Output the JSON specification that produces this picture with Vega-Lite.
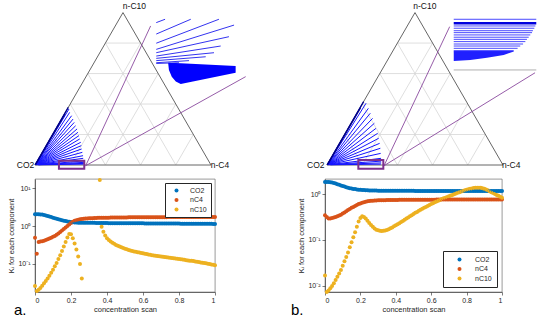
{
"$schema": "https://vega.github.io/schema/vega-lite/v6.json",
"padding": {"left": 7, "top": 0, "right": 0, "bottom": 0},
"background": "white",
"config": {
 "font": "Liberation Sans",
 "view": {"stroke": null},
 "axis": {"labelFont": "Liberation Sans", "labelFontSize": 7, "labelColor": "#262626", "titleFont": "Liberation Sans", "titleFontSize": 7.5, "titleFontWeight": "normal", "titleColor": "#262626", "domainColor": "#262626", "domainWidth": 0.6, "tickColor": "#262626", "tickSize": 3, "tickWidth": 0.6, "grid": false},
 "legend": {"title": null, "strokeColor": "#262626", "fillColor": "white", "labelFont": "Liberation Sans", "labelFontSize": 7, "labelColor": "#262626", "symbolType": "circle", "symbolSize": 16, "symbolStrokeWidth": 0, "rowPadding": 1.5}
},
"datasets": {
 "grid": [{"u":0.1,"v":0.1732,"u2":0.9,"v2":0.1732},{"u":0.2,"v":0.3464,"u2":0.8,"v2":0.3464},{"u":0.3,"v":0.5196,"u2":0.7,"v2":0.5196},{"u":0.4,"v":0.6928,"u2":0.6,"v2":0.6928},{"u":0.2,"v":0,"u2":0.6,"v2":0.6928},{"u":0.4,"v":0,"u2":0.7,"v2":0.5196},{"u":0.6,"v":0,"u2":0.8,"v2":0.3464},{"u":0.8,"v":0,"u2":0.9,"v2":0.1732},{"u":0.2,"v":0,"u2":0.1,"v2":0.1732},{"u":0.4,"v":0,"u2":0.2,"v2":0.3464},{"u":0.6,"v":0,"u2":0.3,"v2":0.5196},{"u":0.8,"v":0,"u2":0.4,"v2":0.6928}],
 "tri": [{"u":0,"v":0,"u2":1,"v2":0},{"u":0,"v":0,"u2":0.5,"v2":0.866},{"u":1,"v":0,"u2":0.5,"v2":0.866}],
 "tieA": [{"u":0.003,"v":0.002,"u2":0.193,"v2":0.318},{"u":0.004,"v":0.002,"u2":0.197,"v2":0.299},{"u":0.004,"v":0.002,"u2":0.208,"v2":0.28},{"u":0.005,"v":0.002,"u2":0.216,"v2":0.261},{"u":0.005,"v":0.002,"u2":0.223,"v2":0.242},{"u":0.006,"v":0.002,"u2":0.231,"v2":0.223},{"u":0.006,"v":0.002,"u2":0.239,"v2":0.205},{"u":0.007,"v":0.002,"u2":0.244,"v2":0.186},{"u":0.007,"v":0.002,"u2":0.25,"v2":0.167},{"u":0.008,"v":0.002,"u2":0.254,"v2":0.148},{"u":0.009,"v":0.002,"u2":0.26,"v2":0.129},{"u":0.01,"v":0.002,"u2":0.263,"v2":0.11},{"u":0.011,"v":0.002,"u2":0.265,"v2":0.091},{"u":0.012,"v":0.002,"u2":0.269,"v2":0.072},{"u":0.014,"v":0.002,"u2":0.273,"v2":0.053},{"u":0.016,"v":0.002,"u2":0.274,"v2":0.038},{"u":0.018,"v":0.002,"u2":0.278,"v2":0.023},{"u":0.02,"v":0.002,"u2":0.278,"v2":0.015},{"u":0.02,"v":0.002,"u2":0.278,"v2":0.009},{"u":0.02,"v":0.001,"u2":0.276,"v2":0.005}],
 "navA": [{"u":0.0,"v":0.0,"u2":0.189,"v2":0.327},{"u":0.003,"v":0.002,"u2":0.17,"v2":0.29}],
 "insA": [{"u":0.689,"v":0.809,"u2":0.739,"v2":0.828},{"u":0.689,"v":0.744,"u2":0.885,"v2":0.828},{"u":0.689,"v":0.692,"u2":1.045,"v2":0.828},{"u":0.689,"v":0.657,"u2":1.131,"v2":0.795},{"u":0.689,"v":0.638,"u2":1.102,"v2":0.729},{"u":0.689,"v":0.619,"u2":1.055,"v2":0.676},{"u":0.689,"v":0.606,"u2":1.017,"v2":0.638},{"u":0.689,"v":0.593,"u2":0.97,"v2":0.615},{"u":0.689,"v":0.581,"u2":0.875,"v2":0.593},{"u":0.689,"v":0.577,"u2":0.818,"v2":0.581}],
 "blobA": [{"u":0.757,"v":0.581,"v2":0.575},{"u":0.761,"v":0.581,"v2":0.54},{"u":0.777,"v":0.58,"v2":0.502},{"u":0.8,"v":0.579,"v2":0.475},{"u":0.828,"v":0.5776,"v2":0.46},{"u":1.14,"v":0.5625,"v2":0.524}],
 "zoomA": [{"u":0.288,"v":-0.004,"u2":0.657,"v2":0.79},{"u":0.288,"v":-0.004,"u2":1.197,"v2":0.502}],
 "rectA": [{"u":0.136,"v":-0.021,"u2":0.28,"v2":0.024}],
 "labA": [{"u":0.565,"v":0.903,"t":"n-C10"},{"u":-0.054,"v":-0.002,"t":"CO2"},{"u":1.051,"v":-0.002,"t":"n-C4"}],
 "tieB": [{"u":0.003,"v":0.002,"u2":0.222,"v2":0.351},{"u":0.004,"v":0.002,"u2":0.235,"v2":0.322},{"u":0.005,"v":0.002,"u2":0.246,"v2":0.294},{"u":0.005,"v":0.002,"u2":0.259,"v2":0.265},{"u":0.006,"v":0.002,"u2":0.269,"v2":0.237},{"u":0.007,"v":0.002,"u2":0.278,"v2":0.208},{"u":0.008,"v":0.002,"u2":0.288,"v2":0.18},{"u":0.009,"v":0.002,"u2":0.294,"v2":0.152},{"u":0.01,"v":0.002,"u2":0.299,"v2":0.123},{"u":0.011,"v":0.002,"u2":0.303,"v2":0.095},{"u":0.013,"v":0.002,"u2":0.305,"v2":0.066},{"u":0.015,"v":0.002,"u2":0.307,"v2":0.038},{"u":0.018,"v":0.002,"u2":0.308,"v2":0.022},{"u":0.02,"v":0.002,"u2":0.308,"v2":0.012},{"u":0.02,"v":0.001,"u2":0.306,"v2":0.005}],
 "navB": [{"u":0.0,"v":0.0,"u2":0.208,"v2":0.36},{"u":0.003,"v":0.002,"u2":0.19,"v2":0.325}],
 "insB": [{"u":0.72,"v":0.828,"u2":1.189,"v2":0.828},{"u":0.72,"v":0.79,"u2":1.184,"v2":0.79},{"u":0.72,"v":0.777,"u2":1.178,"v2":0.777},{"u":0.72,"v":0.763,"u2":1.17,"v2":0.763},{"u":0.72,"v":0.752,"u2":1.165,"v2":0.752},{"u":0.72,"v":0.739,"u2":1.155,"v2":0.739},{"u":0.72,"v":0.726,"u2":1.146,"v2":0.726},{"u":0.72,"v":0.714,"u2":1.136,"v2":0.714},{"u":0.72,"v":0.701,"u2":1.127,"v2":0.701},{"u":0.72,"v":0.6875,"u2":1.114,"v2":0.6875},{"u":0.72,"v":0.676,"u2":1.098,"v2":0.676},{"u":0.72,"v":0.663,"u2":1.083,"v2":0.663},{"u":0.72,"v":0.65,"u2":1.061,"v2":0.65}],
 "thickB": [{"u":0.72,"v":0.805,"u2":1.189,"v2":0.805}],
 "grayB": [{"u":0.72,"v":0.54,"u2":1.189,"v2":0.54}],
 "blobB": [{"u":0.72,"v":0.648,"v2":0.591},{"u":0.814,"v":0.648,"v2":0.597},{"u":0.909,"v":0.648,"v2":0.61},{"u":1.004,"v":0.648,"v2":0.625},{"u":1.061,"v":0.648,"v2":0.645}],
 "zoomB": [{"u":0.324,"v":-0.004,"u2":0.697,"v2":0.786},{"u":0.324,"v":-0.004,"u2":1.182,"v2":0.524}],
 "rectB": [{"u":0.178,"v":-0.021,"u2":0.32,"v2":0.028}],
 "labB": [{"u":0.556,"v":0.903,"t":"n-C10"},{"u":-0.064,"v":-0.002,"t":"CO2"},{"u":1.047,"v":-0.002,"t":"n-C4"}],
 "sa": [
{"x":0.00,"CO2":2.04,"nC4":0.490,"nC10":0.0263},{"x":0.01,"CO2":2.04,"nC4":0.186,"nC10":0.0195},{"x":0.02,"CO2":2.04,"nC4":0.380,"nC10":0.0209},{"x":0.03,"CO2":2.02,"nC4":0.389,"nC10":0.0234},{"x":0.04,"CO2":2.00,"nC4":0.398,"nC10":0.0269},{"x":0.05,"CO2":1.95,"nC4":0.412,"nC10":0.0309},{"x":0.06,"CO2":1.90,"nC4":0.427,"nC10":0.0355},{"x":0.07,"CO2":1.84,"nC4":0.447,"nC10":0.0417},{"x":0.08,"CO2":1.78,"nC4":0.468,"nC10":0.0490},{"x":0.09,"CO2":1.72,"nC4":0.490,"nC10":0.0589},
{"x":0.10,"CO2":1.66,"nC4":0.519,"nC10":0.0708},{"x":0.11,"CO2":1.60,"nC4":0.550,"nC10":0.0871},{"x":0.12,"CO2":1.55,"nC4":0.589,"nC10":0.107},{"x":0.13,"CO2":1.50,"nC4":0.638,"nC10":0.135},{"x":0.14,"CO2":1.46,"nC4":0.692,"nC10":0.170},{"x":0.15,"CO2":1.42,"nC4":0.759,"nC10":0.219},{"x":0.16,"CO2":1.38,"nC4":0.832,"nC10":0.288},{"x":0.17,"CO2":1.35,"nC4":0.912,"nC10":0.380},{"x":0.18,"CO2":1.32,"nC4":1.00,"nC10":0.501},{"x":0.19,"CO2":1.29,"nC4":1.10,"nC10":0.617},
{"x":0.20,"CO2":1.27,"nC4":1.20,"nC10":0.603},{"x":0.21,"CO2":1.25,"nC4":1.29,"nC10":0.479},{"x":0.22,"CO2":1.24,"nC4":1.37,"nC10":0.347},{"x":0.23,"CO2":1.23,"nC4":1.42,"nC10":0.240},{"x":0.24,"CO2":1.22,"nC4":1.46,"nC10":0.158},{"x":0.25,"CO2":1.21,"nC4":1.50,"nC10":0.100},{"x":0.26,"CO2":1.21,"nC4":1.52,"nC10":0.0417},{"x":0.27,"CO2":1.21,"nC4":1.55},{"x":0.28,"CO2":1.21,"nC4":1.57},{"x":0.29,"CO2":1.21,"nC4":1.58},
{"x":0.30,"CO2":1.21,"nC4":1.60},{"x":0.31,"CO2":1.21,"nC4":1.61},{"x":0.32,"CO2":1.21,"nC4":1.61},{"x":0.33,"CO2":1.21,"nC4":1.62},{"x":0.34,"CO2":1.20,"nC4":1.63},{"x":0.35,"CO2":1.20,"nC4":1.64},{"x":0.36,"CO2":1.20,"nC4":1.64,"nC10":16.2},{"x":0.37,"CO2":1.20,"nC4":1.65,"nC10":0.955},{"x":0.38,"CO2":1.20,"nC4":1.65,"nC10":0.708},{"x":0.39,"CO2":1.20,"nC4":1.66,"nC10":0.562},
{"x":0.40,"CO2":1.20,"nC4":1.66,"nC10":0.479},{"x":0.41,"CO2":1.19,"nC4":1.66,"nC10":0.427},{"x":0.42,"CO2":1.19,"nC4":1.67,"nC10":0.389},{"x":0.43,"CO2":1.19,"nC4":1.67,"nC10":0.363},{"x":0.44,"CO2":1.19,"nC4":1.67,"nC10":0.339},{"x":0.45,"CO2":1.19,"nC4":1.67,"nC10":0.316},{"x":0.46,"CO2":1.19,"nC4":1.68,"nC10":0.302},{"x":0.47,"CO2":1.19,"nC4":1.68,"nC10":0.288},{"x":0.48,"CO2":1.19,"nC4":1.68,"nC10":0.275},{"x":0.49,"CO2":1.19,"nC4":1.68,"nC10":0.263},
{"x":0.50,"CO2":1.19,"nC4":1.68,"nC10":0.251},{"x":0.51,"CO2":1.18,"nC4":1.68,"nC10":0.243},{"x":0.52,"CO2":1.18,"nC4":1.69,"nC10":0.234},{"x":0.53,"CO2":1.18,"nC4":1.69,"nC10":0.226},{"x":0.54,"CO2":1.18,"nC4":1.69,"nC10":0.219},{"x":0.55,"CO2":1.18,"nC4":1.69,"nC10":0.214},{"x":0.56,"CO2":1.18,"nC4":1.69,"nC10":0.209},{"x":0.57,"CO2":1.18,"nC4":1.69,"nC10":0.204},{"x":0.58,"CO2":1.18,"nC4":1.70,"nC10":0.200},{"x":0.59,"CO2":1.18,"nC4":1.70,"nC10":0.195},
{"x":0.60,"CO2":1.18,"nC4":1.70,"nC10":0.191},{"x":0.61,"CO2":1.17,"nC4":1.70,"nC10":0.186},{"x":0.62,"CO2":1.17,"nC4":1.70,"nC10":0.182},{"x":0.63,"CO2":1.17,"nC4":1.70,"nC10":0.178},{"x":0.64,"CO2":1.17,"nC4":1.70,"nC10":0.174},{"x":0.65,"CO2":1.17,"nC4":1.71,"nC10":0.170},{"x":0.66,"CO2":1.17,"nC4":1.71,"nC10":0.167},{"x":0.67,"CO2":1.17,"nC4":1.71,"nC10":0.165},{"x":0.68,"CO2":1.17,"nC4":1.71,"nC10":0.163},{"x":0.69,"CO2":1.17,"nC4":1.71,"nC10":0.161},
{"x":0.70,"CO2":1.17,"nC4":1.71,"nC10":0.158},{"x":0.71,"CO2":1.16,"nC4":1.71,"nC10":0.156},{"x":0.72,"CO2":1.16,"nC4":1.71,"nC10":0.153},{"x":0.73,"CO2":1.16,"nC4":1.71,"nC10":0.151},{"x":0.74,"CO2":1.16,"nC4":1.72,"nC10":0.149},{"x":0.75,"CO2":1.16,"nC4":1.72,"nC10":0.146},{"x":0.76,"CO2":1.16,"nC4":1.72,"nC10":0.144},{"x":0.77,"CO2":1.16,"nC4":1.72,"nC10":0.142},{"x":0.78,"CO2":1.16,"nC4":1.72,"nC10":0.139},{"x":0.79,"CO2":1.16,"nC4":1.72,"nC10":0.137},
{"x":0.80,"CO2":1.16,"nC4":1.72,"nC10":0.135},{"x":0.81,"CO2":1.15,"nC4":1.72,"nC10":0.133},{"x":0.82,"CO2":1.15,"nC4":1.72,"nC10":0.131},{"x":0.83,"CO2":1.15,"nC4":1.72,"nC10":0.129},{"x":0.84,"CO2":1.15,"nC4":1.72,"nC10":0.126},{"x":0.85,"CO2":1.15,"nC4":1.72,"nC10":0.124},{"x":0.86,"CO2":1.15,"nC4":1.72,"nC10":0.122},{"x":0.87,"CO2":1.15,"nC4":1.73,"nC10":0.121},{"x":0.88,"CO2":1.15,"nC4":1.73,"nC10":0.119},{"x":0.89,"CO2":1.15,"nC4":1.73,"nC10":0.117},
{"x":0.90,"CO2":1.15,"nC4":1.73,"nC10":0.115},{"x":0.91,"CO2":1.14,"nC4":1.73,"nC10":0.112},{"x":0.92,"CO2":1.14,"nC4":1.73,"nC10":0.110},{"x":0.93,"CO2":1.14,"nC4":1.73,"nC10":0.108},{"x":0.94,"CO2":1.14,"nC4":1.73,"nC10":0.106},{"x":0.95,"CO2":1.14,"nC4":1.73,"nC10":0.104},{"x":0.96,"CO2":1.14,"nC4":1.73,"nC10":0.101},{"x":0.97,"CO2":1.14,"nC4":1.73,"nC10":0.0993},{"x":0.98,"CO2":1.14,"nC4":1.73,"nC10":0.0973},{"x":0.99,"CO2":1.13,"nC4":1.73,"nC10":0.0953},
{"x":1.00,"CO2":1.13,"nC4":1.73,"nC10":0.0933}
 ],
 "sb": [
{"x":0.00,"CO2":1.82,"nC4":0.347,"nC10":0.0170},{"x":0.01,"CO2":1.83,"nC4":0.316,"nC10":0.00741},{"x":0.02,"CO2":1.83,"nC4":0.292,"nC10":0.00794},{"x":0.03,"CO2":1.81,"nC4":0.295,"nC10":0.00891},{"x":0.04,"CO2":1.78,"nC4":0.302,"nC10":0.0100},{"x":0.05,"CO2":1.74,"nC4":0.309,"nC10":0.0115},{"x":0.06,"CO2":1.69,"nC4":0.316,"nC10":0.0135},{"x":0.07,"CO2":1.64,"nC4":0.327,"nC10":0.0158},{"x":0.08,"CO2":1.58,"nC4":0.339,"nC10":0.0186},{"x":0.09,"CO2":1.53,"nC4":0.355,"nC10":0.0224},
{"x":0.10,"CO2":1.49,"nC4":0.376,"nC10":0.0275},{"x":0.11,"CO2":1.45,"nC4":0.398,"nC10":0.0347},{"x":0.12,"CO2":1.41,"nC4":0.422,"nC10":0.0427},{"x":0.13,"CO2":1.37,"nC4":0.447,"nC10":0.0537},{"x":0.14,"CO2":1.34,"nC4":0.473,"nC10":0.0692},{"x":0.15,"CO2":1.32,"nC4":0.501,"nC10":0.0891},{"x":0.16,"CO2":1.29,"nC4":0.525,"nC10":0.115},{"x":0.17,"CO2":1.28,"nC4":0.550,"nC10":0.148},{"x":0.18,"CO2":1.26,"nC4":0.575,"nC10":0.195},{"x":0.19,"CO2":1.245,"nC4":0.603,"nC10":0.251},
{"x":0.20,"CO2":1.233,"nC4":0.624,"nC10":0.302},{"x":0.21,"CO2":1.225,"nC4":0.646,"nC10":0.327},{"x":0.22,"CO2":1.216,"nC4":0.664,"nC10":0.316},{"x":0.23,"CO2":1.208,"nC4":0.679,"nC10":0.292},{"x":0.24,"CO2":1.202,"nC4":0.692,"nC10":0.263},{"x":0.25,"CO2":1.197,"nC4":0.703,"nC10":0.234},{"x":0.26,"CO2":1.194,"nC4":0.711,"nC10":0.211},{"x":0.27,"CO2":1.191,"nC4":0.716,"nC10":0.193},{"x":0.28,"CO2":1.189,"nC4":0.721,"nC10":0.178},{"x":0.29,"CO2":1.186,"nC4":0.724,"nC10":0.168},
{"x":0.30,"CO2":1.183,"nC4":0.728,"nC10":0.162},{"x":0.31,"CO2":1.182,"nC4":0.730,"nC10":0.158},{"x":0.32,"CO2":1.180,"nC4":0.732,"nC10":0.157},{"x":0.33,"CO2":1.178,"nC4":0.734,"nC10":0.158},{"x":0.34,"CO2":1.177,"nC4":0.736,"nC10":0.160},{"x":0.35,"CO2":1.175,"nC4":0.738,"nC10":0.165},{"x":0.36,"CO2":1.174,"nC4":0.739,"nC10":0.172},{"x":0.37,"CO2":1.173,"nC4":0.740,"nC10":0.180},{"x":0.38,"CO2":1.172,"nC4":0.742,"nC10":0.188},{"x":0.39,"CO2":1.171,"nC4":0.743,"nC10":0.198},
{"x":0.40,"CO2":1.170,"nC4":0.745,"nC10":0.209},{"x":0.41,"CO2":1.170,"nC4":0.745,"nC10":0.219},{"x":0.42,"CO2":1.170,"nC4":0.746,"nC10":0.232},{"x":0.43,"CO2":1.170,"nC4":0.746,"nC10":0.245},{"x":0.44,"CO2":1.170,"nC4":0.747,"nC10":0.260},{"x":0.45,"CO2":1.170,"nC4":0.747,"nC10":0.275},{"x":0.46,"CO2":1.170,"nC4":0.748,"nC10":0.292},{"x":0.47,"CO2":1.170,"nC4":0.748,"nC10":0.309},{"x":0.48,"CO2":1.170,"nC4":0.749,"nC10":0.327},{"x":0.49,"CO2":1.170,"nC4":0.749,"nC10":0.347},
{"x":0.50,"CO2":1.170,"nC4":0.750,"nC10":0.367},{"x":0.51,"CO2":1.168,"nC4":0.750,"nC10":0.389},{"x":0.52,"CO2":1.168,"nC4":0.751,"nC10":0.407},{"x":0.53,"CO2":1.168,"nC4":0.751,"nC10":0.432},{"x":0.54,"CO2":1.168,"nC4":0.752,"nC10":0.457},{"x":0.55,"CO2":1.168,"nC4":0.752,"nC10":0.479},{"x":0.56,"CO2":1.167,"nC4":0.752,"nC10":0.501},{"x":0.57,"CO2":1.167,"nC4":0.753,"nC10":0.525},{"x":0.58,"CO2":1.167,"nC4":0.753,"nC10":0.550},{"x":0.59,"CO2":1.167,"nC4":0.753,"nC10":0.575},
{"x":0.60,"CO2":1.166,"nC4":0.754,"nC10":0.603},{"x":0.61,"CO2":1.166,"nC4":0.754,"nC10":0.631},{"x":0.62,"CO2":1.166,"nC4":0.754,"nC10":0.661},{"x":0.63,"CO2":1.166,"nC4":0.755,"nC10":0.684},{"x":0.64,"CO2":1.165,"nC4":0.755,"nC10":0.716},{"x":0.65,"CO2":1.165,"nC4":0.755,"nC10":0.741},{"x":0.66,"CO2":1.165,"nC4":0.755,"nC10":0.776},{"x":0.67,"CO2":1.165,"nC4":0.756,"nC10":0.804},{"x":0.68,"CO2":1.164,"nC4":0.756,"nC10":0.832},{"x":0.69,"CO2":1.164,"nC4":0.756,"nC10":0.861},
{"x":0.70,"CO2":1.164,"nC4":0.756,"nC10":0.891},{"x":0.71,"CO2":1.164,"nC4":0.757,"nC10":0.923},{"x":0.72,"CO2":1.163,"nC4":0.757,"nC10":0.955},{"x":0.73,"CO2":1.163,"nC4":0.757,"nC10":0.989},{"x":0.74,"CO2":1.163,"nC4":0.757,"nC10":1.023},{"x":0.75,"CO2":1.163,"nC4":0.758,"nC10":1.059},{"x":0.76,"CO2":1.162,"nC4":0.758,"nC10":1.096},{"x":0.77,"CO2":1.162,"nC4":0.758,"nC10":1.135},{"x":0.78,"CO2":1.162,"nC4":0.758,"nC10":1.169},{"x":0.79,"CO2":1.162,"nC4":0.758,"nC10":1.202},
{"x":0.80,"CO2":1.162,"nC4":0.759,"nC10":1.236},{"x":0.81,"CO2":1.161,"nC4":0.759,"nC10":1.268},{"x":0.82,"CO2":1.161,"nC4":0.759,"nC10":1.297},{"x":0.83,"CO2":1.161,"nC4":0.759,"nC10":1.324},{"x":0.84,"CO2":1.161,"nC4":0.759,"nC10":1.349},{"x":0.85,"CO2":1.161,"nC4":0.759,"nC10":1.365},{"x":0.86,"CO2":1.160,"nC4":0.760,"nC10":1.374},{"x":0.87,"CO2":1.160,"nC4":0.760,"nC10":1.374},{"x":0.88,"CO2":1.160,"nC4":0.760,"nC10":1.361},{"x":0.89,"CO2":1.160,"nC4":0.760,"nC10":1.334},
{"x":0.90,"CO2":1.160,"nC4":0.760,"nC10":1.297},{"x":0.91,"CO2":1.160,"nC4":0.760,"nC10":1.253},{"x":0.92,"CO2":1.160,"nC4":0.760,"nC10":1.202},{"x":0.93,"CO2":1.160,"nC4":0.760,"nC10":1.148},{"x":0.94,"CO2":1.160,"nC4":0.760,"nC10":1.096},{"x":0.95,"CO2":1.160,"nC4":0.760,"nC10":1.047},{"x":0.96,"CO2":1.160,"nC4":0.760,"nC10":1.000},{"x":0.97,"CO2":1.160,"nC4":0.760,"nC10":0.955},{"x":0.98,"CO2":1.160,"nC4":0.760,"nC10":0.912},{"x":0.99,"CO2":1.160,"nC4":0.760,"nC10":0.871},
{"x":1.00,"CO2":1.160,"nC4":0.760,"nC10":0.832}
 ]
},
"columns": 2,
"spacing": {"row": 4, "column": 75},
"bounds": "flush",
"align": "each",
"resolve": {"scale": {"x": "independent", "y": "independent", "color": "independent"}, "axis": {"x": "independent", "y": "independent"}, "legend": {"color": "independent"}},
"concat": [
 {
  "width": 215, "height": 175,
  "encoding": {
   "x": {"field": "u", "type": "quantitative", "scale": {"domain": [0, 1.2216], "nice": false, "zero": false}, "axis": null},
   "y": {"field": "v", "type": "quantitative", "scale": {"domain": [-0.0568, 0.9375], "nice": false, "zero": false}, "axis": null}
  },
  "layer": [
   {"data": {"name": "grid"}, "mark": {"type": "rule", "color": "#d6d6d6", "strokeWidth": 0.8}, "encoding": {"x2": {"field": "u2"}, "y2": {"field": "v2"}}},
   {"data": {"name": "tri"}, "mark": {"type": "rule", "color": "#666666", "strokeWidth": 1}, "encoding": {"x2": {"field": "u2"}, "y2": {"field": "v2"}}},
   {"data": {"name": "tieA"}, "mark": {"type": "rule", "color": "#1414ff", "strokeWidth": 1}, "encoding": {"x2": {"field": "u2"}, "y2": {"field": "v2"}}},
   {"data": {"name": "navA"}, "mark": {"type": "rule", "color": "#00008b", "strokeWidth": 1.3}, "encoding": {"x2": {"field": "u2"}, "y2": {"field": "v2"}}},
   {"data": {"name": "insA"}, "mark": {"type": "rule", "color": "#3434f0", "strokeWidth": 1}, "encoding": {"x2": {"field": "u2"}, "y2": {"field": "v2"}}},
   {"data": {"name": "blobA"}, "mark": {"type": "area", "color": "#0000ff", "opacity": 1}, "encoding": {"y2": {"field": "v2"}}},
   {"data": {"name": "zoomA"}, "mark": {"type": "rule", "color": "#8a4a9e", "strokeWidth": 0.9}, "encoding": {"x2": {"field": "u2"}, "y2": {"field": "v2"}}},
   {"data": {"name": "rectA"}, "mark": {"type": "rect", "fillOpacity": 0, "stroke": "#7E2F8E", "strokeWidth": 2}, "encoding": {"x2": {"field": "u2"}, "y2": {"field": "v2"}}},
   {"data": {"name": "labA"}, "mark": {"type": "text", "fontSize": 8.5, "color": "#111111", "align": "center", "baseline": "middle", "font": "Liberation Sans"}, "encoding": {"text": {"field": "t"}}}
  ]
 },
 {
  "width": 215, "height": 175,
  "encoding": {
   "x": {"field": "u", "type": "quantitative", "scale": {"domain": [-0.0114, 1.2102], "nice": false, "zero": false}, "axis": null},
   "y": {"field": "v", "type": "quantitative", "scale": {"domain": [-0.0568, 0.9375], "nice": false, "zero": false}, "axis": null}
  },
  "layer": [
   {"data": {"name": "grid"}, "mark": {"type": "rule", "color": "#d6d6d6", "strokeWidth": 0.8}, "encoding": {"x2": {"field": "u2"}, "y2": {"field": "v2"}}},
   {"data": {"name": "tri"}, "mark": {"type": "rule", "color": "#666666", "strokeWidth": 1}, "encoding": {"x2": {"field": "u2"}, "y2": {"field": "v2"}}},
   {"data": {"name": "tieB"}, "mark": {"type": "rule", "color": "#1414ff", "strokeWidth": 1}, "encoding": {"x2": {"field": "u2"}, "y2": {"field": "v2"}}},
   {"data": {"name": "navB"}, "mark": {"type": "rule", "color": "#00008b", "strokeWidth": 1.3}, "encoding": {"x2": {"field": "u2"}, "y2": {"field": "v2"}}},
   {"data": {"name": "blobB"}, "mark": {"type": "area", "color": "#2020ff", "opacity": 1}, "encoding": {"y2": {"field": "v2"}}},
   {"data": {"name": "insB"}, "mark": {"type": "rule", "color": "#4a4aff", "strokeWidth": 1}, "encoding": {"x2": {"field": "u2"}, "y2": {"field": "v2"}}},
   {"data": {"name": "thickB"}, "mark": {"type": "rule", "color": "#0000dd", "strokeWidth": 2.5}, "encoding": {"x2": {"field": "u2"}, "y2": {"field": "v2"}}},
   {"data": {"name": "grayB"}, "mark": {"type": "rule", "color": "#9a9a9a", "strokeWidth": 0.8}, "encoding": {"x2": {"field": "u2"}, "y2": {"field": "v2"}}},
   {"data": {"name": "zoomB"}, "mark": {"type": "rule", "color": "#8a4a9e", "strokeWidth": 0.9}, "encoding": {"x2": {"field": "u2"}, "y2": {"field": "v2"}}},
   {"data": {"name": "rectB"}, "mark": {"type": "rect", "fillOpacity": 0, "stroke": "#7E2F8E", "strokeWidth": 2}, "encoding": {"x2": {"field": "u2"}, "y2": {"field": "v2"}}},
   {"data": {"name": "labB"}, "mark": {"type": "text", "fontSize": 8.5, "color": "#111111", "align": "center", "baseline": "middle", "font": "Liberation Sans"}, "encoding": {"text": {"field": "t"}}}
  ]
 },
 {
  "width": 180, "height": 113,
  "data": {"name": "sa"},
  "transform": [{"fold": ["CO2", "nC4", "nC10"], "as": ["c", "k"]}],
  "view": {"stroke": "#555555", "strokeWidth": 0.6},
  "title": {"text": "a.", "orient": "bottom", "anchor": "start", "frame": "group", "offset": -10, "dx": -21, "fontSize": 15, "fontWeight": "normal", "color": "#000000", "font": "Liberation Sans"},
  "mark": {"type": "point", "filled": true, "size": 16, "opacity": 1},
  "encoding": {
   "x": {"field": "x", "type": "quantitative", "scale": {"domain": [0, 1], "nice": false}, "axis": {"values": [0, 0.2, 0.4, 0.6, 0.8, 1], "format": "~g", "title": "concentration scan", "labelPadding": 1, "titlePadding": 2}},
   "y": {"field": "k", "type": "quantitative", "scale": {"type": "log", "domain": [0.0183, 17.3], "nice": false}, "axis": {"values": [0.1, 1, 10], "labelExpr": "datum.value > 5 ? '10¹' : datum.value > 0.5 ? '10⁰' : datum.value > 0.05 ? '10⁻¹' : '10⁻²'", "title": "Kᵢ for each component", "labelPadding": 2, "titlePadding": 2}},
   "color": {"field": "c", "type": "nominal", "scale": {"domain": ["CO2", "nC4", "nC10"], "range": ["#0072BD", "#D95319", "#EDB120"]}, "legend": {"orient": "top-right", "offset": 4, "padding": 4, "labelOffset": 10, "symbolOffset": 4}}
  }
 },
 {
  "width": 177, "height": 113,
  "data": {"name": "sb"},
  "transform": [{"fold": ["CO2", "nC4", "nC10"], "as": ["c", "k"]}],
  "view": {"stroke": "#555555", "strokeWidth": 0.6},
  "title": {"text": "b.", "orient": "bottom", "anchor": "start", "frame": "group", "offset": -10, "dx": -34, "fontSize": 15, "fontWeight": "normal", "color": "#000000", "font": "Liberation Sans"},
  "mark": {"type": "point", "filled": true, "size": 16, "opacity": 1},
  "encoding": {
   "x": {"field": "x", "type": "quantitative", "scale": {"domain": [0, 1], "nice": false}, "axis": {"values": [0, 0.2, 0.4, 0.6, 0.8, 1], "format": "~g", "title": "concentration scan", "labelPadding": 1, "titlePadding": 2}},
   "y": {"field": "k", "type": "quantitative", "scale": {"type": "log", "domain": [0.0074, 2.12], "nice": false}, "axis": {"values": [0.01, 0.1, 1], "labelExpr": "datum.value > 5 ? '10¹' : datum.value > 0.5 ? '10⁰' : datum.value > 0.05 ? '10⁻¹' : '10⁻²'", "title": "Kᵢ for each component", "labelPadding": 2, "titlePadding": 2}},
   "color": {"field": "c", "type": "nominal", "scale": {"domain": ["CO2", "nC4", "nC10"], "range": ["#0072BD", "#D95319", "#EDB120"]}, "legend": {"orient": "bottom-right", "offset": 5, "padding": 5, "labelOffset": 12, "symbolOffset": 8}}
  }
 }
]
}
